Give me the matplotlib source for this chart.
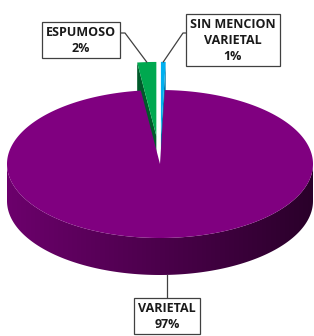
import numpy as np
import matplotlib.pyplot as plt
from matplotlib.patches import Polygon

categories = ["VARIETAL", "ESPUMOSO", "SIN MENCION\nVARIETAL"]
values = [97.5, 2.0, 0.5]
labels = ["97%", "2%", "1%"]
explode = [0.0, 0.38, 0.38]
top_colors = ["#800080", "#00a84f", "#00b0f0"]
side_colors = ["#5a005a", "#005a2a", "#0077a8"]

cx, cy, rx, ry, depth = 160, 164, 153, 74, 37

fig = plt.figure(figsize=(3.14, 3.36), dpi=100)
ax = fig.add_axes([0, 0, 1, 1])


def rim(t, off=(0, 0), dy=0):
    r = np.radians(t)
    return np.column_stack([cx + rx * np.sin(r) + off[0],
                            cy - ry * np.cos(r) + off[1] + dy])


# angles, clockwise from 12 o'clock; the last slice starts at the top
total = sum(values)
spans = [360 * v / total for v in values]
start = spans[2]
bounds = []
a = start
for s in spans[:2]:
    bounds.append((a, a + s))
    a += s
bounds.append((0, spans[2]))
bounds[1] = (bounds[1][0] - 360, bounds[1][1] - 360)

offsets = []
for (t0, t1), e in zip(bounds, explode):
    tm = np.radians((t0 + t1) / 2)
    offsets.append((e * rx * np.sin(tm), -e * ry * np.cos(tm)))

# exploded slices at the back first
for i in [1, 2]:
    t0, t1 = bounds[i]
    off = offsets[i]
    apex = np.array([[cx + off[0], cy + off[1]]])
    for t, visible in [(t0, np.sin(np.radians(t0)) < 0), (t1, np.sin(np.radians(t1)) > 0)]:
        if visible:
            p = rim(t, off)
            wall = np.vstack([apex, p, p + [0, depth], apex + [0, depth]])
            ax.add_patch(Polygon(wall, closed=True, fc=side_colors[i], ec="none"))
    arc = rim(np.linspace(t0, t1, 30), off)
    ax.add_patch(Polygon(np.vstack([apex, arc]), closed=True, fc=top_colors[i], ec="none"))

# main slice: front wall with shading, then top face
t0, t1 = bounds[0]
front = np.linspace(90, 270, 200)
wall = np.vstack([rim(front), rim(front[::-1], dy=depth)])
wall_patch = Polygon(wall, closed=True, fc="none", ec="none")
ax.add_patch(wall_patch)
grad = np.linspace(0, 1, 256)
c_left = np.array([108, 0, 108]) / 255
c_right = np.array([42, 0, 42]) / 255
img = (c_left[None, :] * (1 - grad[:, None]) + c_right[None, :] * grad[:, None])[None, :, :]
im = ax.imshow(img, extent=[cx - rx, cx + rx, cy + ry + depth, cy - ry], aspect="auto", zorder=1)
im.set_clip_path(wall_patch)

arc = rim(np.linspace(t0, t1, 400))
ax.add_patch(Polygon(np.vstack([[cx, cy], arc]), closed=True, fc=top_colors[0], ec="none", zorder=2))

# labels and leader lines
font = dict(family=["Open Sans", "DejaVu Sans"], fontsize=9, fontweight="bold", color="#1a1a1a",
            ha="center", va="center", linespacing=1.3, zorder=5)
box = dict(boxstyle="square,pad=0.3", fc="white", ec="#404040", lw=0.9)
label_pos = [(167, 316), (81, 40), (233, 40)]
line_start = [None, [(121, 33), (125, 33)], [(188, 33), (183, 33)]]

for i in range(3):
    t0, t1 = bounds[i]
    tm = (t0 + t1) / 2
    if i == 0:
        p = rim(tm, offsets[i], dy=depth)[0]
        pts = [(p[0], p[1]), (p[0], label_pos[0][1] - 16)]
    else:
        p = rim(tm, offsets[i])[0]
        pts = line_start[i] + [(p[0], p[1])]
    xs, ys = zip(*pts)
    ax.plot(xs, ys, color="#404040", lw=0.9, zorder=4)
    ax.text(label_pos[i][0], label_pos[i][1], categories[i] + "\n" + labels[i], bbox=box, **font)

ax.set_xlim(0, 314)
ax.set_ylim(336, 0)
ax.axis("off")
fig.savefig("out.png", dpi=100)
